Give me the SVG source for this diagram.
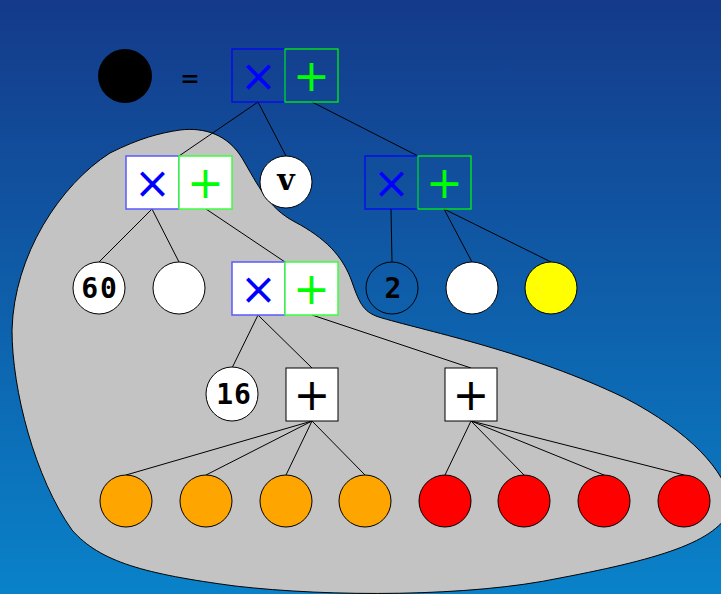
<svg xmlns="http://www.w3.org/2000/svg" width="721" height="594" viewBox="0 0 721 594">
<defs>
<linearGradient id="bg" x1="0" y1="0" x2="0" y2="1">
<stop offset="0" stop-color="#143a8a"/>
<stop offset="1" stop-color="#0982c9"/>
</linearGradient>
<style>
.c{stroke:#000;stroke-width:1}
.ln{stroke:#000;stroke-width:1;fill:none}
.bb{fill:none;stroke:#0000ff;stroke-width:1.2}
.gb{fill:none;stroke:#00ff00;stroke-width:1.2}
.bw{fill:#fff;stroke:#5a5aff;stroke-width:1.5}
.gw{fill:#fff;stroke:#3cff3c;stroke-width:1.5}
.kb{fill:#fff;stroke:#000;stroke-width:1}
.op{font-family:"DejaVu Sans",sans-serif;font-size:44px;text-anchor:middle}
.x{fill:#0000ff}
.p{fill:#00ff00}
.k{fill:#000}
.num{font-family:"DejaVu Sans Mono","Liberation Mono",monospace;font-weight:bold;font-size:28px;text-anchor:middle;fill:#000}
.v{font-family:"DejaVu Serif","Liberation Serif",serif;font-weight:bold;font-size:30px;text-anchor:middle;fill:#000}
</style>
</defs>
<rect x="0" y="0" width="721" height="594" fill="url(#bg)"/>
<path id="blob" d="M180,130 C205,127 228,135 242,158 C258,185 268,208 295,222 C325,238 343,256 352,282 C360,305 364,313 382,318 C430,332 530,352 625,398 C690,432 725,470 732,505 C722,540 665,558 560,578 C470,597 330,597 235,586 C145,574 100,562 72,530 C35,478 12,390 12,330 C14,255 60,185 110,153 C140,138 160,133 180,130 Z" fill="#c3c3c3" stroke="#000" stroke-width="1"/>
<g id="connectors">
<line class="ln" x1="258" y1="102" x2="179" y2="156"/>
<line class="ln" x1="258" y1="102" x2="286" y2="156"/>
<line class="ln" x1="312" y1="102" x2="418" y2="156"/>
<line class="ln" x1="152" y1="209" x2="99" y2="262"/>
<line class="ln" x1="152" y1="209" x2="179" y2="262"/>
<line class="ln" x1="206" y1="209" x2="285" y2="262"/>
<line class="ln" x1="391" y1="209" x2="392" y2="262"/>
<line class="ln" x1="444" y1="209" x2="472" y2="262"/>
<line class="ln" x1="444" y1="209" x2="551" y2="262"/>
<line class="ln" x1="258" y1="315" x2="232" y2="368"/>
<line class="ln" x1="258" y1="315" x2="312" y2="368"/>
<line class="ln" x1="312" y1="315" x2="471" y2="368"/>
<line class="ln" x1="312" y1="421" x2="126" y2="475"/>
<line class="ln" x1="312" y1="421" x2="206" y2="475"/>
<line class="ln" x1="312" y1="421" x2="286" y2="475"/>
<line class="ln" x1="312" y1="421" x2="365" y2="475"/>
<line class="ln" x1="471" y1="421" x2="445" y2="475"/>
<line class="ln" x1="471" y1="421" x2="524" y2="475"/>
<line class="ln" x1="471" y1="421" x2="604" y2="475"/>
<line class="ln" x1="471" y1="421" x2="684" y2="475"/>
</g>
<g id="legend">
<circle cx="125" cy="76" r="27" fill="#000"/>
<text x="190" y="88" font-family="DejaVu Sans Mono,monospace" font-size="28" text-anchor="middle" fill="#000">=</text>
</g>
<g id="top">
<rect class="bb" x="232" y="49" width="53" height="53"/>
<rect class="gb" x="285" y="49" width="53" height="53"/>
<text class="op x" x="258.5" y="91">×</text>
<text class="op p" x="311.5" y="91">+</text>
</g>
<g id="n1">
<rect class="bw" x="126" y="156" width="53" height="53"/>
<rect class="gw" x="179" y="156" width="53" height="53"/>
<text class="op x" x="152.5" y="198">×</text>
<text class="op p" x="205.5" y="198">+</text>
</g>
<g id="v">
<circle class="c" cx="286" cy="182" r="26" fill="#fff"/>
<text class="v" x="286" y="190">v</text>
</g>
<g id="n2">
<rect class="bb" x="365" y="156" width="53" height="53"/>
<rect class="gb" x="418" y="156" width="53" height="53"/>
<text class="op x" x="391.5" y="198">×</text>
<text class="op p" x="444.5" y="198">+</text>
</g>
<g id="c60">
<circle class="c" cx="99" cy="288" r="26" fill="#fff"/>
<text class="num" x="100" y="298" letter-spacing="2">60</text>
</g>
<g id="cw1"><circle class="c" cx="179" cy="288" r="26" fill="#fff"/></g>
<g id="n3">
<rect class="bw" x="232" y="262" width="53" height="53"/>
<rect class="gw" x="285" y="262" width="53" height="53"/>
<text class="op x" x="258.5" y="304">×</text>
<text class="op p" x="311.5" y="304">+</text>
</g>
<g id="c2">
<circle class="c" cx="392" cy="288" r="26" fill="none"/>
<text class="num" x="393" y="298">2</text>
</g>
<g id="cw2"><circle class="c" cx="472" cy="288" r="26" fill="#fff"/></g>
<g id="cy"><circle class="c" cx="551" cy="288" r="26" fill="#ffff00"/></g>
<g id="c16">
<ellipse class="c" cx="232" cy="394" rx="26" ry="27" fill="#fff"/>
<text class="num" x="234" y="404" letter-spacing="1">16</text>
</g>
<g id="p1">
<rect class="kb" x="286" y="368" width="52" height="53"/>
<text class="op k" x="312" y="410">+</text>
</g>
<g id="p2">
<rect class="kb" x="445" y="368" width="52" height="53"/>
<text class="op k" x="471" y="410">+</text>
</g>
<g id="o1"><ellipse class="c" cx="126" cy="501" rx="26" ry="26" fill="#ffa500"/></g>
<g id="o2"><ellipse class="c" cx="206" cy="501" rx="26" ry="26" fill="#ffa500"/></g>
<g id="o3"><ellipse class="c" cx="286" cy="501" rx="26" ry="26" fill="#ffa500"/></g>
<g id="o4"><ellipse class="c" cx="365" cy="501" rx="26" ry="26" fill="#ffa500"/></g>
<g id="r1"><ellipse class="c" cx="445" cy="501" rx="26" ry="26" fill="#ff0000"/></g>
<g id="r2"><ellipse class="c" cx="524" cy="501" rx="26" ry="26" fill="#ff0000"/></g>
<g id="r3"><ellipse class="c" cx="604" cy="501" rx="26" ry="26" fill="#ff0000"/></g>
<g id="r4"><ellipse class="c" cx="684" cy="501" rx="26" ry="26" fill="#ff0000"/></g>
</svg>
